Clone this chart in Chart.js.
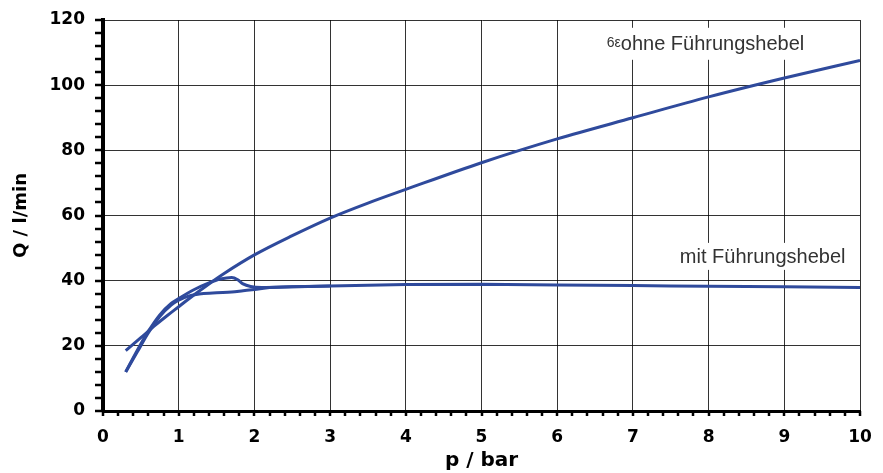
<!DOCTYPE html>
<html>
<head>
<meta charset="utf-8">
<script src="https://cdn.jsdelivr.net/npm/chart.js@4.4.1/dist/chart.umd.min.js"></script>
<style>
  html, body { margin: 0; padding: 0; background: #fff; }
  #wrap { width: 883px; height: 473px; }
</style>
</head>
<body>
<div id="wrap"><canvas id="chart"></canvas></div>
<script>
const ohneP = [0.3, 0.5, 0.7, 0.85, 1.0, 1.2, 1.4, 1.6, 2.0, 2.5, 3.0, 3.5, 4.0, 5.0, 6.0, 7.0, 8.0, 9.0, 10.0];
const ohneQ = [18.5, 22.5, 26.5, 29.3, 32.0, 35.6, 39.0, 42.2, 47.9, 53.8, 59.2, 63.8, 68.0, 76.2, 83.5, 90.0, 96.4, 102.2, 107.6];

const mitAufP = [0.3, 0.45, 0.6, 0.75, 0.9, 1.0, 1.2, 1.4, 1.55, 1.7, 1.78, 1.85, 1.95, 2.1, 2.5, 3, 4, 5, 6, 7, 8, 9, 10];
const mitAufQ = [12, 18.5, 24.5, 29.5, 33, 34.5, 37.2, 39.3, 40.5, 41.0, 40.3, 39.0, 38.2, 37.9, 38.1, 38.4, 38.8, 38.9, 38.7, 38.5, 38.3, 38.1, 37.9];

const mitAbP = [0.3, 0.45, 0.6, 0.75, 0.9, 1.0, 1.15, 1.3, 1.5, 1.7, 1.85, 2.0, 2.2, 2.5, 3];
const mitAbQ = [12, 18, 24, 29, 32.5, 34, 35.4, 36.0, 36.3, 36.5, 36.9, 37.3, 37.9, 38.1, 38.4];

const xTicks = [0, 1, 2, 3, 4, 5, 6, 7, 8, 9, 10];
const yTicks = [0, 20, 40, 60, 80, 100, 120];

const lineColor = '#2f4a9c';

function toPoints(xs, ys) {
    return xs.map((x, i) => ({ x: x, y: ys[i] }));
}

function lineSet(label, xs, ys) {
    return {
        label: label,
        data: toPoints(xs, ys),
        showLine: true,
        borderColor: lineColor,
        borderWidth: 3,
        pointRadius: 0,
        cubicInterpolationMode: 'monotone',
        fill: false
    };
}

// Nebenteilstriche an den Achsen
const minorTicks = {
    id: 'minorTicks',
    afterDraw(chart) {
        const ctx = chart.ctx;
        const xs = chart.scales.x;
        const ys = chart.scales.y;
        ctx.save();
        ctx.strokeStyle = '#000';
        ctx.lineWidth = 2.5;
        ctx.beginPath();
        for (let v = 0; v <= 120; v += 4) {
            const py = Math.round(ys.getPixelForValue(v));
            ctx.moveTo(xs.left - 8, py);
            ctx.lineTo(xs.left, py);
        }
        for (let i = 0; i <= 50; i++) {
            const px = Math.round(xs.getPixelForValue(i * 0.2));
            ctx.moveTo(px, ys.bottom);
            ctx.lineTo(px, ys.bottom + 5);
        }
        ctx.stroke();
        ctx.restore();
    }
};

// Beschriftungen der Kurven
const curveLabels = {
    id: 'curveLabels',
    afterDatasetsDraw(chart) {
        const ctx = chart.ctx;
        const xs = chart.scales.x;
        const ys = chart.scales.y;
        ctx.save();
        ctx.textBaseline = 'middle';
        ctx.textAlign = 'left';

        // ohne Führungshebel
        let x = xs.getPixelForValue(6.84);
        let y = ys.getPixelForValue(112.7);
        ctx.font = '20px "Liberation Sans", Arial, sans-serif';
        let w = ctx.measureText('ohne Führungshebel').width;
        ctx.fillStyle = '#fff';
        ctx.fillRect(x - 18, y - 16, w + 22, 32);
        ctx.fillStyle = '#333';
        ctx.fillText('ohne Führungshebel', x, y + 1);
        ctx.font = '14px "Liberation Sans", Arial, sans-serif';
        ctx.textAlign = 'right';
        ctx.fillText('6ε', x, y - 1);

        // mit Führungshebel
        ctx.textAlign = 'left';
        x = xs.getPixelForValue(7.62);
        y = ys.getPixelForValue(47.3);
        ctx.font = '20px "Liberation Sans", Arial, sans-serif';
        w = ctx.measureText('mit Führungshebel').width;
        ctx.fillStyle = '#fff';
        ctx.fillRect(x - 4, y - 14, w + 8, 27);
        ctx.fillStyle = '#333';
        ctx.fillText('mit Führungshebel', x, y + 1);
        ctx.restore();
    }
};

const ctx = document.getElementById('chart');
new Chart(ctx, {
    type: 'scatter',
    data: {
        datasets: [
            lineSet('ohne Führungshebel', ohneP, ohneQ),
            lineSet('mit Führungshebel (auf)', mitAufP, mitAufQ),
            lineSet('mit Führungshebel (ab)', mitAbP, mitAbQ)
        ]
    },
    options: {
        responsive: true,
        maintainAspectRatio: false,
        animation: false,
        events: [],
        layout: {
            padding: { top: 20, right: 23, left: 0, bottom: 0 }
        },
        plugins: {
            legend: { display: false },
            tooltip: { enabled: false }
        },
        scales: {
            x: {
                type: 'linear',
                min: 0,
                max: 10,
                afterBuildTicks: function(scale) {
                    scale.ticks = xTicks.map(v => ({ value: v }));
                },
                afterFit: function(scale) {
                    scale.height = 62;
                    scale.paddingLeft = 0;
                    scale.paddingRight = 0;
                },
                grid: {
                    color: 'rgba(0,0,0,0.8)',
                    lineWidth: 1,
                    drawTicks: false
                },
                border: { color: '#000', width: 3 },
                ticks: {
                    padding: 16,
                    color: '#000',
                    font: { family: '"DejaVu Sans", sans-serif', size: 17, weight: 'bold' }
                },
                title: {
                    display: true,
                    text: 'p / bar',
                    color: '#000',
                    padding: { top: 0, bottom: 0 },
                    font: { family: '"DejaVu Sans", sans-serif', size: 20, weight: 'bold' }
                }
            },
            y: {
                type: 'linear',
                min: 0,
                max: 120,
                afterBuildTicks: function(scale) {
                    scale.ticks = yTicks.map(v => ({ value: v }));
                },
                afterFit: function(scale) {
                    scale.width = 103;
                    scale.paddingTop = 0;
                    scale.paddingBottom = 0;
                },
                grid: {
                    color: 'rgba(0,0,0,0.8)',
                    lineWidth: 1,
                    drawTicks: false
                },
                border: { color: '#000', width: 4 },
                ticks: {
                    padding: 18,
                    color: '#000',
                    font: { family: '"DejaVu Sans", sans-serif', size: 17, weight: 'bold' }
                },
                title: {
                    display: true,
                    text: 'Q / l/min',
                    color: '#000',
                    padding: { top: 11, bottom: 0 },
                    font: { family: '"DejaVu Sans", sans-serif', size: 18, weight: 'bold' }
                }
            }
        }
    },
    plugins: [minorTicks, curveLabels]
});
</script>
</body>
</html>
